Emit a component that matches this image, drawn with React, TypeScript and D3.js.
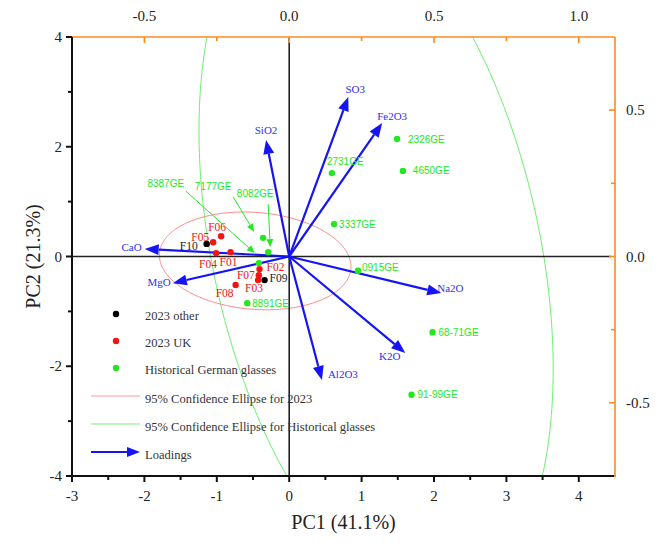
import * as d3 from "d3";

const W = 665;
const H = 544;
const P = { left: 72, right: 615, top: 37, bottom: 476 };

const SERIF = "'Liberation Serif', 'Times New Roman', serif";
const SANS = "'Liberation Sans', Arial, sans-serif";

// axis ticks
const pc1Ticks = [-3, -2, -1, 0, 1, 2, 3, 4];
const pc1Minor = [-2.5, -1.5, -0.5, 0.5, 1.5, 2.5, 3.5];
const pc2Ticks = [-4, -2, 0, 2, 4];
const pc2Minor = [-3, -1, 1, 3];
const loadXTicks = [-0.5, 0, 0.5, 1.0];
const loadXMinor = [-0.25, 0.25, 0.75];
const loadYTicks = [-0.5, 0, 0.5];
const loadYMinor = [-0.25, 0.25];

// scores
const otherNames = ["F09", "F10"];
const otherPC1 = [-0.34, -1.14];
const otherPC2 = [-0.43, 0.23];

const ukNames = ["F01", "F02", "F03", "F04", "F05", "F06", "F07", "F08"];
const ukPC1 = [-0.81, -0.41, -0.43, -1.01, -1.05, -0.94, -0.42, -0.74];
const ukPC2 = [0.08, -0.23, -0.43, 0.06, 0.26, 0.37, -0.34, -0.52];

const geNames = ["2326GE", "4650GE", "2731GE", "3337GE", "0915GE", "68-71GE", "91-99GE", "8891GE", "7177GE", "8082GE", "8387GE"];
const gePC1 = [1.49, 1.57, 0.59, 0.62, 0.95, 1.98, 1.69, -0.58, -0.36, -0.29, -0.42];
const gePC2 = [2.14, 1.56, 1.52, 0.59, -0.26, -1.38, -2.52, -0.85, 0.34, 0.08, -0.12];

// loadings
const loadNames = ["SO3", "Fe2O3", "SiO2", "CaO", "MgO", "Na2O", "K2O", "Al2O3"];
const loadX = [0.204, 0.321, -0.08, -0.499, -0.402, 0.525, 0.401, 0.113];
const loadY = [0.545, 0.456, 0.398, 0.026, -0.091, -0.125, -0.33, -0.422];

// 95% ellipses: centre, semi axes, angle (deg)
const ukEllipse = [-0.47, -0.08, 1.33, 0.88, -8];
const geEllipse = [1.2, 0.12, 6.48, 2.28, 98.4];

// label placement (px offset, anchor)
const labelPos: Record<string, [number, number, string]> = {
  F01: [-2, 10, "middle"], F02: [7, -2, "start"], F03: [-4, 8, "middle"], F04: [-8, 11, "middle"],
  F05: [-4, -5, "end"], F06: [-4, -9, "middle"], F07: [-4, 0, "end"], F08: [-11, 8, "middle"],
  F09: [5, -2, "start"], F10: [-9, 2, "end"],
  "2326GE": [11, 0, "start"], "4650GE": [10, 0, "start"], "2731GE": [-5, -12, "start"],
  "3337GE": [5, 0, "start"], "0915GE": [4, -3, "start"], "68-71GE": [6, 0, "start"],
  "91-99GE": [6, 0, "start"], "8891GE": [5, 0, "start"],
  SO3: [7, -8, "middle"], Fe2O3: [10, -7, "middle"], SiO2: [0, -10, "middle"], CaO: [-3, -2, "end"],
  MgO: [-2, -1, "end"], Na2O: [-4, -5, "start"], K2O: [-5, 3, "end"], Al2O3: [6, -6, "start"],
};

// call-outs for crowded points: label offset, line start offset, line end offset (px from the point)
const callouts: Record<string, number[]> = {
  "8082GE": [-13, -59, 0, -48, 2, -5],
  "7177GE": [-50, -51, -30, -41, -9, -6],
  "8387GE": [-93, -80, -73, -72, -4, -10],
};

const x = d3.scaleLinear().domain([-3, 4.5]).range([P.left, P.right]);
const y = d3.scaleLinear().domain([-4, 4]).range([P.bottom, P.top]);
const xL = d3.scaleLinear().domain([-0.75, 1.125]).range([P.left, P.right]);
const yL = d3.scaleLinear().domain([-0.75, 0.75]).range([P.bottom, P.top]);

const ORANGE = "#ff8a1c";
const BLUE = "#1414f5";
const RED = "#f21414";
const GREEN = "#22e822";

function ellipsePath(e: number[]) {
  const [cx, cy, a, b, deg] = e;
  const th = (deg * Math.PI) / 180;
  const pts = d3.range(0, 361).map((i) => {
    const t = (i * Math.PI) / 180;
    const u = cx + a * Math.cos(t) * Math.cos(th) - b * Math.sin(t) * Math.sin(th);
    const v = cy + a * Math.cos(t) * Math.sin(th) + b * Math.sin(t) * Math.cos(th);
    return [x(u), y(v)] as [number, number];
  });
  return d3.line()(pts) as string;
}

function arrow(x1: number, y1: number, x2: number, y2: number, len: number, half: number) {
  const dx = x2 - x1, dy = y2 - y1;
  const d = Math.hypot(dx, dy);
  const ux = dx / d, uy = dy / d;
  const bx = x2 - ux * len, by = y2 - uy * len;
  const poly = [
    [x2, y2],
    [bx - uy * half, by + ux * half],
    [bx + uy * half, by - ux * half],
  ].map((p) => p.join(",")).join(" ");
  return { bx, by, poly };
}

export default function App() {
  const ox = x(0), oy = y(0);
  const ptLabel = (name: string, px: number, py: number, color: string, font: string, size: number) => {
    const lp = labelPos[name];
    if (!lp) return null;
    return (
      <text key={"l" + name} x={px + lp[0]} y={py + lp[1]} textAnchor={lp[2] as any} dominantBaseline="central"
        fill={color} fontFamily={font} fontSize={size}>{name}</text>
    );
  };

  const legendRows = [
    { t: "2023 other", kind: "dot", c: "#000", y: 316 },
    { t: "2023 UK", kind: "dot", c: RED, y: 343 },
    { t: "Historical German glasses", kind: "dot", c: GREEN, y: 370 },
    { t: "95% Confidence Ellipse for 2023", kind: "line", c: "#ff9a9a", y: 399 },
    { t: "95% Confidence Ellipse for Historical glasses", kind: "line", c: "#7cf07c", y: 427 },
    { t: "Loadings", kind: "arrow", c: BLUE, y: 455 },
  ];

  return (
    <svg width={W} height={H} style={{ position: "absolute", left: 0, top: 0, background: "#fff" }}>
      <defs>
        <clipPath id="plot">
          <rect x={P.left} y={P.top} width={P.right - P.left} height={P.bottom - P.top} />
        </clipPath>
      </defs>

      {/* ellipses */}
      <g clipPath="url(#plot)" fill="none">
        <path d={ellipsePath(geEllipse)} stroke="#6fee6f" strokeWidth={1} />
        <path d={ellipsePath(ukEllipse)} stroke="#ff8585" strokeWidth={1} />
      </g>

      {/* zero lines */}
      <line x1={P.left} x2={P.right - 4} y1={oy} y2={oy} stroke="#222" strokeWidth={1.6} />
      <line x1={ox} x2={ox} y1={P.top} y2={P.bottom} stroke="#222" strokeWidth={1.6} />

      {/* legend */}
      <g fontFamily={SERIF} fontSize={12.5} fill="#333">
        {legendRows.map((r) => {
          let mark = null;
          if (r.kind === "dot") mark = <circle cx={116} cy={r.y - 2} r={3.2} fill={r.c} />;
          else if (r.kind === "line") mark = <line x1={91} x2={140} y1={r.y - 3} y2={r.y - 3} stroke={r.c} strokeWidth={1.2} />;
          else {
            const a = arrow(91, r.y - 3, 140, r.y - 3, 13, 5);
            mark = (
              <g>
                <line x1={91} x2={a.bx} y1={r.y - 3} y2={r.y - 3} stroke={r.c} strokeWidth={2.2} />
                <polygon points={a.poly} fill={r.c} />
              </g>
            );
          }
          return (
            <g key={r.t}>
              {mark}
              <text x={145} y={r.y} dominantBaseline="central">{r.t}</text>
            </g>
          );
        })}
      </g>

      {/* loadings */}
      <g>
        {loadNames.map((n, i) => {
          const tx = xL(loadX[i]), ty = yL(loadY[i]);
          const a = arrow(ox, oy, tx, ty, 14, 5.5);
          return (
            <g key={n}>
              <line x1={ox} y1={oy} x2={a.bx} y2={a.by} stroke={BLUE} strokeWidth={2.2} />
              <polygon points={a.poly} fill={BLUE} />
              {ptLabel(n, tx, ty, "#3030e8", SERIF, 11)}
            </g>
          );
        })}
      </g>

      {/* green points */}
      <g>
        {geNames.map((n, i) => {
          const px = x(gePC1[i]), py = y(gePC2[i]);
          const co = callouts[n];
          let extra = null;
          if (co) {
            const a = arrow(px + co[2], py + co[3], px + co[4], py + co[5], 8, 3.5);
            extra = (
              <g>
                <line x1={px + co[2]} y1={py + co[3]} x2={a.bx} y2={a.by} stroke={GREEN} strokeWidth={1} />
                <polygon points={a.poly} fill={GREEN} />
                <text x={px + co[0]} y={py + co[1]} textAnchor="middle" dominantBaseline="central"
                  fill={GREEN} fontFamily={SANS} fontSize={10}>{n}</text>
              </g>
            );
          }
          return (
            <g key={n}>
              <circle cx={px} cy={py} r={3.2} fill={GREEN} />
              {ptLabel(n, px, py, GREEN, SANS, 10)}
              {extra}
            </g>
          );
        })}
      </g>

      {/* red points */}
      <g>
        {ukNames.map((n, i) => {
          const px = x(ukPC1[i]), py = y(ukPC2[i]);
          return (
            <g key={n}>
              <circle cx={px} cy={py} r={3.2} fill={RED} />
              {ptLabel(n, px, py, RED, SERIF, 11.5)}
            </g>
          );
        })}
        {otherNames.map((n, i) => {
          const px = x(otherPC1[i]), py = y(otherPC2[i]);
          return (
            <g key={n}>
              <circle cx={px} cy={py} r={3.2} fill="#000" />
              {ptLabel(n, px, py, "#222", SERIF, 11.5)}
            </g>
          );
        })}
      </g>

      {/* top & right axes (loadings) */}
      <g stroke={ORANGE} strokeWidth={1.6}>
        <line x1={P.left} x2={P.right} y1={P.top} y2={P.top} />
        <line x1={P.right} x2={P.right} y1={P.top} y2={P.bottom} />
        {loadXTicks.map((t) => <line key={"tx" + t} x1={xL(t)} x2={xL(t)} y1={P.top} y2={P.top + 6} />)}
        {loadXMinor.map((t) => <line key={"tmx" + t} x1={xL(t)} x2={xL(t)} y1={P.top} y2={P.top + 4} />)}
        {loadYTicks.map((t) => <line key={"ty" + t} x1={P.right} x2={P.right - 6} y1={yL(t)} y2={yL(t)} />)}
        {loadYMinor.map((t) => <line key={"tmy" + t} x1={P.right} x2={P.right - 4} y1={yL(t)} y2={yL(t)} />)}
      </g>
      <g fontFamily={SERIF} fontSize={15} fill="#222">
        {loadXTicks.map((t) => (
          <text key={"lx" + t} x={xL(t)} y={P.top - 21} textAnchor="middle" dominantBaseline="central">{t.toFixed(1)}</text>
        ))}
        {loadYTicks.map((t) => (
          <text key={"ly" + t} x={P.right + 11} y={yL(t)} dominantBaseline="central">{t.toFixed(1)}</text>
        ))}
      </g>

      {/* left & bottom axes (scores) */}
      <g stroke="#111" strokeWidth={2}>
        <line x1={P.left} x2={P.left} y1={P.top} y2={P.bottom} />
        <line x1={P.left} x2={P.right} y1={P.bottom} y2={P.bottom} />
        {pc1Ticks.map((t) => <line key={"bx" + t} x1={x(t)} x2={x(t)} y1={P.bottom} y2={P.bottom + 6} />)}
        {pc1Minor.map((t) => <line key={"bmx" + t} x1={x(t)} x2={x(t)} y1={P.bottom} y2={P.bottom + 4} />)}
        {pc2Ticks.map((t) => <line key={"ly" + t} x1={P.left} x2={P.left - 6} y1={y(t)} y2={y(t)} />)}
        {pc2Minor.map((t) => <line key={"lmy" + t} x1={P.left} x2={P.left - 4} y1={y(t)} y2={y(t)} />)}
      </g>
      <line x1={P.right - 1} x2={P.right + 1} y1={P.bottom} y2={P.bottom} stroke={ORANGE} strokeWidth={2} />
      <g fontFamily={SERIF} fontSize={15} fill="#222">
        {pc1Ticks.map((t) => (
          <text key={"b" + t} x={x(t)} y={P.bottom + 20} textAnchor="middle" dominantBaseline="central">{t}</text>
        ))}
        {pc2Ticks.map((t) => (
          <text key={"l" + t} x={P.left - 10} y={y(t)} textAnchor="end" dominantBaseline="central">{t}</text>
        ))}
      </g>
      <text x={(P.left + P.right) / 2} y={522} textAnchor="middle" dominantBaseline="central"
        fontFamily={SERIF} fontSize={20} fill="#222">PC1 (41.1%)</text>
      <text transform={`translate(33,${oy}) rotate(-90)`} textAnchor="middle" dominantBaseline="central"
        fontFamily={SERIF} fontSize={20} fill="#222">PC2 (21.3%)</text>
    </svg>
  );
}
